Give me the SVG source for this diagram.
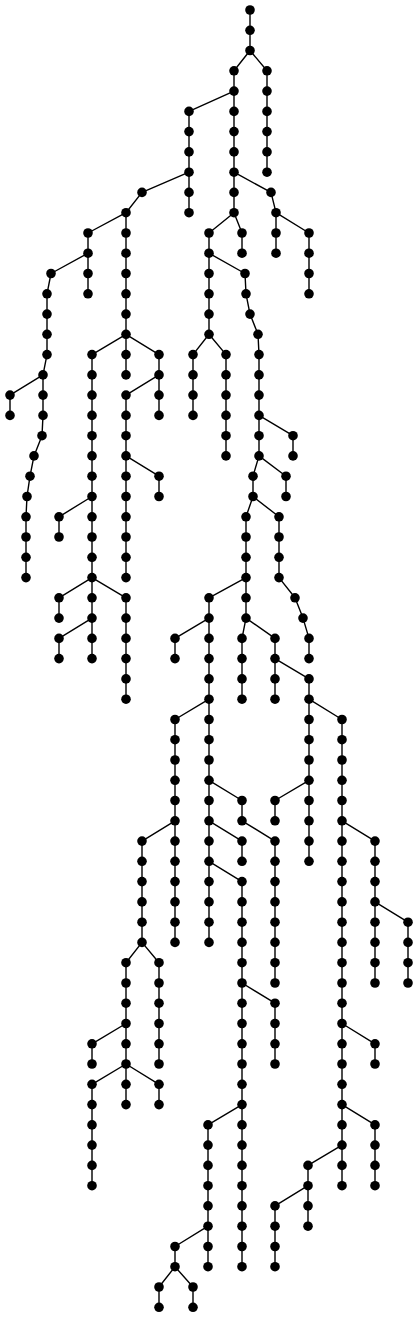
<svg xmlns="http://www.w3.org/2000/svg" width="419" height="1317" viewBox="0 0 419 1317">
<style>
.e path{fill:none;stroke:#000;stroke-width:1.4;stroke-linejoin:round}
.n circle{fill:#000}
</style>
<rect width="419" height="1317" fill="#fff"/>
<g id="connectors" class="e">
<path d="M250 10V50.5L234 70.8V212.7"/>
<path d="M250 50.5L267 70.8V172.2"/>
<path d="M234 91.1L189 111.4V212.7"/>
<path d="M189 172.2L142 192.4L126 212.7V334.3"/>
<path d="M126 212.7L88 233V293.8"/>
<path d="M88 253.2L51 273.5L47 293.8V354.6L43 374.9V415.4L42 435.7L34 455.9L30 476.2L27 496.5L26 516.8V577.6"/>
<path d="M43 374.9L10 395.1V415.4"/>
<path d="M126 334.3L92 354.6V577.6"/>
<path d="M126 334.3V374.9"/>
<path d="M126 334.3L159 354.6V415.4"/>
<path d="M159 374.9L126 395.1V577.6"/>
<path d="M126 455.9L159 476.2V496.5"/>
<path d="M92 496.5L59 516.8V537"/>
<path d="M92 577.6L59 597.8V618.1"/>
<path d="M92 577.6V658.6"/>
<path d="M92 618.1L59 638.4V658.6"/>
<path d="M92 577.6L126 597.8V699.2"/>
<path d="M234 172.2L271 192.4L276 212.7V253.2"/>
<path d="M276 212.7L309 233V293.8"/>
<path d="M234 212.7L242 233V253.2"/>
<path d="M234 212.7L209 233V334.3"/>
<path d="M209 253.2L245 273.5L246 293.8L250 314.1L258 334.3L259 354.6V455.9L253 476.2V496.5L246 516.8V618.1L242 638.4V699.2"/>
<path d="M209 334.3L193 354.6V415.4"/>
<path d="M209 334.3L226 354.6V455.9"/>
<path d="M259 415.4L293 435.7V455.9"/>
<path d="M259 455.9L286 476.2V496.5"/>
<path d="M253 496.5L279 516.8V577.6L295 597.8L303 618.1L309 638.4V658.6"/>
<path d="M246 577.6L209 597.8V942.4"/>
<path d="M209 618.1L175 638.4V658.6"/>
<path d="M246 618.1L275 638.4V699.2"/>
<path d="M275 658.6L309 678.9V861.3"/>
<path d="M209 699.2L175 719.5V942.4"/>
<path d="M209 780.3L242 800.5V820.8L275 841.1V983"/>
<path d="M209 820.8L242 841.1V861.3"/>
<path d="M209 861.3L242 881.6V1266.7"/>
<path d="M242 983L275 1003.2V1064"/>
<path d="M242 1104.6L208 1124.9V1266.7"/>
<path d="M208 1226.2L175 1246.5V1266.7L159 1287V1307.3"/>
<path d="M175 1266.7L193 1287V1307.3"/>
<path d="M175 820.8L142 841.1V942.4L126 962.7V1104.6"/>
<path d="M142 942.4L159 962.7V1064"/>
<path d="M126 1023.5L92 1043.8V1064"/>
<path d="M126 1064L92 1084.3V1185.7"/>
<path d="M126 1064L159 1084.3V1104.6"/>
<path d="M309 699.2L342 719.5V1185.7"/>
<path d="M309 780.3L275 800.5V820.8"/>
<path d="M342 820.8L375 841.1V983"/>
<path d="M375 901.9L408 922.2V983"/>
<path d="M342 1023.5L375 1043.8V1064"/>
<path d="M342 1104.6L375 1124.9V1185.7"/>
<path d="M342 1145.1L308 1165.4V1226.2"/>
<path d="M308 1185.7L275 1205.9V1266.7"/>
</g>
<g id="nodes" class="n">
<g id="n250_0"><circle cx="250" cy="10" r="4.8"/></g>
<g id="n250_1"><circle cx="250" cy="30.3" r="4.8"/></g>
<g id="n250_2"><circle cx="250" cy="50.5" r="4.8"/></g>
<g id="n234_3"><circle cx="234" cy="70.8" r="4.8"/></g>
<g id="n234_4"><circle cx="234" cy="91.1" r="4.8"/></g>
<g id="n234_5"><circle cx="234" cy="111.4" r="4.8"/></g>
<g id="n234_6"><circle cx="234" cy="131.6" r="4.8"/></g>
<g id="n234_7"><circle cx="234" cy="151.9" r="4.8"/></g>
<g id="n234_8"><circle cx="234" cy="172.2" r="4.8"/></g>
<g id="n234_9"><circle cx="234" cy="192.4" r="4.8"/></g>
<g id="n234_10"><circle cx="234" cy="212.7" r="4.8"/></g>
<g id="n267_3"><circle cx="267" cy="70.8" r="4.8"/></g>
<g id="n267_4"><circle cx="267" cy="91.1" r="4.8"/></g>
<g id="n267_5"><circle cx="267" cy="111.4" r="4.8"/></g>
<g id="n267_6"><circle cx="267" cy="131.6" r="4.8"/></g>
<g id="n267_7"><circle cx="267" cy="151.9" r="4.8"/></g>
<g id="n267_8"><circle cx="267" cy="172.2" r="4.8"/></g>
<g id="n189_5"><circle cx="189" cy="111.4" r="4.8"/></g>
<g id="n189_6"><circle cx="189" cy="131.6" r="4.8"/></g>
<g id="n189_7"><circle cx="189" cy="151.9" r="4.8"/></g>
<g id="n189_8"><circle cx="189" cy="172.2" r="4.8"/></g>
<g id="n189_9"><circle cx="189" cy="192.4" r="4.8"/></g>
<g id="n189_10"><circle cx="189" cy="212.7" r="4.8"/></g>
<g id="n142_9"><circle cx="142" cy="192.4" r="4.8"/></g>
<g id="n126_10"><circle cx="126" cy="212.7" r="4.8"/></g>
<g id="n126_11"><circle cx="126" cy="233" r="4.8"/></g>
<g id="n126_12"><circle cx="126" cy="253.2" r="4.8"/></g>
<g id="n126_13"><circle cx="126" cy="273.5" r="4.8"/></g>
<g id="n126_14"><circle cx="126" cy="293.8" r="4.8"/></g>
<g id="n126_15"><circle cx="126" cy="314.1" r="4.8"/></g>
<g id="n126_16"><circle cx="126" cy="334.3" r="4.8"/></g>
<g id="n88_11"><circle cx="88" cy="233" r="4.8"/></g>
<g id="n88_12"><circle cx="88" cy="253.2" r="4.8"/></g>
<g id="n88_13"><circle cx="88" cy="273.5" r="4.8"/></g>
<g id="n88_14"><circle cx="88" cy="293.8" r="4.8"/></g>
<g id="n51_13"><circle cx="51" cy="273.5" r="4.8"/></g>
<g id="n47_14"><circle cx="47" cy="293.8" r="4.8"/></g>
<g id="n47_15"><circle cx="47" cy="314.1" r="4.8"/></g>
<g id="n47_16"><circle cx="47" cy="334.3" r="4.8"/></g>
<g id="n47_17"><circle cx="47" cy="354.6" r="4.8"/></g>
<g id="n43_18"><circle cx="43" cy="374.9" r="4.8"/></g>
<g id="n43_19"><circle cx="43" cy="395.1" r="4.8"/></g>
<g id="n43_20"><circle cx="43" cy="415.4" r="4.8"/></g>
<g id="n42_21"><circle cx="42" cy="435.7" r="4.8"/></g>
<g id="n34_22"><circle cx="34" cy="455.9" r="4.8"/></g>
<g id="n30_23"><circle cx="30" cy="476.2" r="4.8"/></g>
<g id="n27_24"><circle cx="27" cy="496.5" r="4.8"/></g>
<g id="n26_25"><circle cx="26" cy="516.8" r="4.8"/></g>
<g id="n26_26"><circle cx="26" cy="537" r="4.8"/></g>
<g id="n26_27"><circle cx="26" cy="557.3" r="4.8"/></g>
<g id="n26_28"><circle cx="26" cy="577.6" r="4.8"/></g>
<g id="n10_19"><circle cx="10" cy="395.1" r="4.8"/></g>
<g id="n10_20"><circle cx="10" cy="415.4" r="4.8"/></g>
<g id="n92_17"><circle cx="92" cy="354.6" r="4.8"/></g>
<g id="n92_18"><circle cx="92" cy="374.9" r="4.8"/></g>
<g id="n92_19"><circle cx="92" cy="395.1" r="4.8"/></g>
<g id="n92_20"><circle cx="92" cy="415.4" r="4.8"/></g>
<g id="n92_21"><circle cx="92" cy="435.7" r="4.8"/></g>
<g id="n92_22"><circle cx="92" cy="455.9" r="4.8"/></g>
<g id="n92_23"><circle cx="92" cy="476.2" r="4.8"/></g>
<g id="n92_24"><circle cx="92" cy="496.5" r="4.8"/></g>
<g id="n92_25"><circle cx="92" cy="516.8" r="4.8"/></g>
<g id="n92_26"><circle cx="92" cy="537" r="4.8"/></g>
<g id="n92_27"><circle cx="92" cy="557.3" r="4.8"/></g>
<g id="n92_28"><circle cx="92" cy="577.6" r="4.8"/></g>
<g id="n126_17"><circle cx="126" cy="354.6" r="4.8"/></g>
<g id="n126_18"><circle cx="126" cy="374.9" r="4.8"/></g>
<g id="n159_17"><circle cx="159" cy="354.6" r="4.8"/></g>
<g id="n159_18"><circle cx="159" cy="374.9" r="4.8"/></g>
<g id="n159_19"><circle cx="159" cy="395.1" r="4.8"/></g>
<g id="n159_20"><circle cx="159" cy="415.4" r="4.8"/></g>
<g id="n126_19"><circle cx="126" cy="395.1" r="4.8"/></g>
<g id="n126_20"><circle cx="126" cy="415.4" r="4.8"/></g>
<g id="n126_21"><circle cx="126" cy="435.7" r="4.8"/></g>
<g id="n126_22"><circle cx="126" cy="455.9" r="4.8"/></g>
<g id="n126_23"><circle cx="126" cy="476.2" r="4.8"/></g>
<g id="n126_24"><circle cx="126" cy="496.5" r="4.8"/></g>
<g id="n126_25"><circle cx="126" cy="516.8" r="4.8"/></g>
<g id="n126_26"><circle cx="126" cy="537" r="4.8"/></g>
<g id="n126_27"><circle cx="126" cy="557.3" r="4.8"/></g>
<g id="n126_28"><circle cx="126" cy="577.6" r="4.8"/></g>
<g id="n159_23"><circle cx="159" cy="476.2" r="4.8"/></g>
<g id="n159_24"><circle cx="159" cy="496.5" r="4.8"/></g>
<g id="n59_25"><circle cx="59" cy="516.8" r="4.8"/></g>
<g id="n59_26"><circle cx="59" cy="537" r="4.8"/></g>
<g id="n59_29"><circle cx="59" cy="597.8" r="4.8"/></g>
<g id="n59_30"><circle cx="59" cy="618.1" r="4.8"/></g>
<g id="n92_29"><circle cx="92" cy="597.8" r="4.8"/></g>
<g id="n92_30"><circle cx="92" cy="618.1" r="4.8"/></g>
<g id="n92_31"><circle cx="92" cy="638.4" r="4.8"/></g>
<g id="n92_32"><circle cx="92" cy="658.6" r="4.8"/></g>
<g id="n59_31"><circle cx="59" cy="638.4" r="4.8"/></g>
<g id="n59_32"><circle cx="59" cy="658.6" r="4.8"/></g>
<g id="n126_29"><circle cx="126" cy="597.8" r="4.8"/></g>
<g id="n126_30"><circle cx="126" cy="618.1" r="4.8"/></g>
<g id="n126_31"><circle cx="126" cy="638.4" r="4.8"/></g>
<g id="n126_32"><circle cx="126" cy="658.6" r="4.8"/></g>
<g id="n126_33"><circle cx="126" cy="678.9" r="4.8"/></g>
<g id="n126_34"><circle cx="126" cy="699.2" r="4.8"/></g>
<g id="n271_9"><circle cx="271" cy="192.4" r="4.8"/></g>
<g id="n276_10"><circle cx="276" cy="212.7" r="4.8"/></g>
<g id="n276_11"><circle cx="276" cy="233" r="4.8"/></g>
<g id="n276_12"><circle cx="276" cy="253.2" r="4.8"/></g>
<g id="n309_11"><circle cx="309" cy="233" r="4.8"/></g>
<g id="n309_12"><circle cx="309" cy="253.2" r="4.8"/></g>
<g id="n309_13"><circle cx="309" cy="273.5" r="4.8"/></g>
<g id="n309_14"><circle cx="309" cy="293.8" r="4.8"/></g>
<g id="n242_11"><circle cx="242" cy="233" r="4.8"/></g>
<g id="n242_12"><circle cx="242" cy="253.2" r="4.8"/></g>
<g id="n209_11"><circle cx="209" cy="233" r="4.8"/></g>
<g id="n209_12"><circle cx="209" cy="253.2" r="4.8"/></g>
<g id="n209_13"><circle cx="209" cy="273.5" r="4.8"/></g>
<g id="n209_14"><circle cx="209" cy="293.8" r="4.8"/></g>
<g id="n209_15"><circle cx="209" cy="314.1" r="4.8"/></g>
<g id="n209_16"><circle cx="209" cy="334.3" r="4.8"/></g>
<g id="n245_13"><circle cx="245" cy="273.5" r="4.8"/></g>
<g id="n246_14"><circle cx="246" cy="293.8" r="4.8"/></g>
<g id="n250_15"><circle cx="250" cy="314.1" r="4.8"/></g>
<g id="n258_16"><circle cx="258" cy="334.3" r="4.8"/></g>
<g id="n259_17"><circle cx="259" cy="354.6" r="4.8"/></g>
<g id="n259_18"><circle cx="259" cy="374.9" r="4.8"/></g>
<g id="n259_19"><circle cx="259" cy="395.1" r="4.8"/></g>
<g id="n259_20"><circle cx="259" cy="415.4" r="4.8"/></g>
<g id="n259_21"><circle cx="259" cy="435.7" r="4.8"/></g>
<g id="n259_22"><circle cx="259" cy="455.9" r="4.8"/></g>
<g id="n253_23"><circle cx="253" cy="476.2" r="4.8"/></g>
<g id="n253_24"><circle cx="253" cy="496.5" r="4.8"/></g>
<g id="n246_25"><circle cx="246" cy="516.8" r="4.8"/></g>
<g id="n246_26"><circle cx="246" cy="537" r="4.8"/></g>
<g id="n246_27"><circle cx="246" cy="557.3" r="4.8"/></g>
<g id="n246_28"><circle cx="246" cy="577.6" r="4.8"/></g>
<g id="n246_29"><circle cx="246" cy="597.8" r="4.8"/></g>
<g id="n246_30"><circle cx="246" cy="618.1" r="4.8"/></g>
<g id="n242_31"><circle cx="242" cy="638.4" r="4.8"/></g>
<g id="n242_32"><circle cx="242" cy="658.6" r="4.8"/></g>
<g id="n242_33"><circle cx="242" cy="678.9" r="4.8"/></g>
<g id="n242_34"><circle cx="242" cy="699.2" r="4.8"/></g>
<g id="n193_17"><circle cx="193" cy="354.6" r="4.8"/></g>
<g id="n193_18"><circle cx="193" cy="374.9" r="4.8"/></g>
<g id="n193_19"><circle cx="193" cy="395.1" r="4.8"/></g>
<g id="n193_20"><circle cx="193" cy="415.4" r="4.8"/></g>
<g id="n226_17"><circle cx="226" cy="354.6" r="4.8"/></g>
<g id="n226_18"><circle cx="226" cy="374.9" r="4.8"/></g>
<g id="n226_19"><circle cx="226" cy="395.1" r="4.8"/></g>
<g id="n226_20"><circle cx="226" cy="415.4" r="4.8"/></g>
<g id="n226_21"><circle cx="226" cy="435.7" r="4.8"/></g>
<g id="n226_22"><circle cx="226" cy="455.9" r="4.8"/></g>
<g id="n293_21"><circle cx="293" cy="435.7" r="4.8"/></g>
<g id="n293_22"><circle cx="293" cy="455.9" r="4.8"/></g>
<g id="n286_23"><circle cx="286" cy="476.2" r="4.8"/></g>
<g id="n286_24"><circle cx="286" cy="496.5" r="4.8"/></g>
<g id="n279_25"><circle cx="279" cy="516.8" r="4.8"/></g>
<g id="n279_26"><circle cx="279" cy="537" r="4.8"/></g>
<g id="n279_27"><circle cx="279" cy="557.3" r="4.8"/></g>
<g id="n279_28"><circle cx="279" cy="577.6" r="4.8"/></g>
<g id="n295_29"><circle cx="295" cy="597.8" r="4.8"/></g>
<g id="n303_30"><circle cx="303" cy="618.1" r="4.8"/></g>
<g id="n309_31"><circle cx="309" cy="638.4" r="4.8"/></g>
<g id="n309_32"><circle cx="309" cy="658.6" r="4.8"/></g>
<g id="n209_29"><circle cx="209" cy="597.8" r="4.8"/></g>
<g id="n209_30"><circle cx="209" cy="618.1" r="4.8"/></g>
<g id="n209_31"><circle cx="209" cy="638.4" r="4.8"/></g>
<g id="n209_32"><circle cx="209" cy="658.6" r="4.8"/></g>
<g id="n209_33"><circle cx="209" cy="678.9" r="4.8"/></g>
<g id="n209_34"><circle cx="209" cy="699.2" r="4.8"/></g>
<g id="n209_35"><circle cx="209" cy="719.5" r="4.8"/></g>
<g id="n209_36"><circle cx="209" cy="739.7" r="4.8"/></g>
<g id="n209_37"><circle cx="209" cy="760" r="4.8"/></g>
<g id="n209_38"><circle cx="209" cy="780.3" r="4.8"/></g>
<g id="n209_39"><circle cx="209" cy="800.5" r="4.8"/></g>
<g id="n209_40"><circle cx="209" cy="820.8" r="4.8"/></g>
<g id="n209_41"><circle cx="209" cy="841.1" r="4.8"/></g>
<g id="n209_42"><circle cx="209" cy="861.3" r="4.8"/></g>
<g id="n209_43"><circle cx="209" cy="881.6" r="4.8"/></g>
<g id="n209_44"><circle cx="209" cy="901.9" r="4.8"/></g>
<g id="n209_45"><circle cx="209" cy="922.2" r="4.8"/></g>
<g id="n209_46"><circle cx="209" cy="942.4" r="4.8"/></g>
<g id="n175_31"><circle cx="175" cy="638.4" r="4.8"/></g>
<g id="n175_32"><circle cx="175" cy="658.6" r="4.8"/></g>
<g id="n275_31"><circle cx="275" cy="638.4" r="4.8"/></g>
<g id="n275_32"><circle cx="275" cy="658.6" r="4.8"/></g>
<g id="n275_33"><circle cx="275" cy="678.9" r="4.8"/></g>
<g id="n275_34"><circle cx="275" cy="699.2" r="4.8"/></g>
<g id="n309_33"><circle cx="309" cy="678.9" r="4.8"/></g>
<g id="n309_34"><circle cx="309" cy="699.2" r="4.8"/></g>
<g id="n309_35"><circle cx="309" cy="719.5" r="4.8"/></g>
<g id="n309_36"><circle cx="309" cy="739.7" r="4.8"/></g>
<g id="n309_37"><circle cx="309" cy="760" r="4.8"/></g>
<g id="n309_38"><circle cx="309" cy="780.3" r="4.8"/></g>
<g id="n309_39"><circle cx="309" cy="800.5" r="4.8"/></g>
<g id="n309_40"><circle cx="309" cy="820.8" r="4.8"/></g>
<g id="n309_41"><circle cx="309" cy="841.1" r="4.8"/></g>
<g id="n309_42"><circle cx="309" cy="861.3" r="4.8"/></g>
<g id="n175_35"><circle cx="175" cy="719.5" r="4.8"/></g>
<g id="n175_36"><circle cx="175" cy="739.7" r="4.8"/></g>
<g id="n175_37"><circle cx="175" cy="760" r="4.8"/></g>
<g id="n175_38"><circle cx="175" cy="780.3" r="4.8"/></g>
<g id="n175_39"><circle cx="175" cy="800.5" r="4.8"/></g>
<g id="n175_40"><circle cx="175" cy="820.8" r="4.8"/></g>
<g id="n175_41"><circle cx="175" cy="841.1" r="4.8"/></g>
<g id="n175_42"><circle cx="175" cy="861.3" r="4.8"/></g>
<g id="n175_43"><circle cx="175" cy="881.6" r="4.8"/></g>
<g id="n175_44"><circle cx="175" cy="901.9" r="4.8"/></g>
<g id="n175_45"><circle cx="175" cy="922.2" r="4.8"/></g>
<g id="n175_46"><circle cx="175" cy="942.4" r="4.8"/></g>
<g id="n242_39"><circle cx="242" cy="800.5" r="4.8"/></g>
<g id="n242_40"><circle cx="242" cy="820.8" r="4.8"/></g>
<g id="n275_41"><circle cx="275" cy="841.1" r="4.8"/></g>
<g id="n275_42"><circle cx="275" cy="861.3" r="4.8"/></g>
<g id="n275_43"><circle cx="275" cy="881.6" r="4.8"/></g>
<g id="n275_44"><circle cx="275" cy="901.9" r="4.8"/></g>
<g id="n275_45"><circle cx="275" cy="922.2" r="4.8"/></g>
<g id="n275_46"><circle cx="275" cy="942.4" r="4.8"/></g>
<g id="n275_47"><circle cx="275" cy="962.7" r="4.8"/></g>
<g id="n275_48"><circle cx="275" cy="983" r="4.8"/></g>
<g id="n242_41"><circle cx="242" cy="841.1" r="4.8"/></g>
<g id="n242_42"><circle cx="242" cy="861.3" r="4.8"/></g>
<g id="n242_43"><circle cx="242" cy="881.6" r="4.8"/></g>
<g id="n242_44"><circle cx="242" cy="901.9" r="4.8"/></g>
<g id="n242_45"><circle cx="242" cy="922.2" r="4.8"/></g>
<g id="n242_46"><circle cx="242" cy="942.4" r="4.8"/></g>
<g id="n242_47"><circle cx="242" cy="962.7" r="4.8"/></g>
<g id="n242_48"><circle cx="242" cy="983" r="4.8"/></g>
<g id="n242_49"><circle cx="242" cy="1003.2" r="4.8"/></g>
<g id="n242_50"><circle cx="242" cy="1023.5" r="4.8"/></g>
<g id="n242_51"><circle cx="242" cy="1043.8" r="4.8"/></g>
<g id="n242_52"><circle cx="242" cy="1064" r="4.8"/></g>
<g id="n242_53"><circle cx="242" cy="1084.3" r="4.8"/></g>
<g id="n242_54"><circle cx="242" cy="1104.6" r="4.8"/></g>
<g id="n242_55"><circle cx="242" cy="1124.9" r="4.8"/></g>
<g id="n242_56"><circle cx="242" cy="1145.1" r="4.8"/></g>
<g id="n242_57"><circle cx="242" cy="1165.4" r="4.8"/></g>
<g id="n242_58"><circle cx="242" cy="1185.7" r="4.8"/></g>
<g id="n242_59"><circle cx="242" cy="1205.9" r="4.8"/></g>
<g id="n242_60"><circle cx="242" cy="1226.2" r="4.8"/></g>
<g id="n242_61"><circle cx="242" cy="1246.5" r="4.8"/></g>
<g id="n242_62"><circle cx="242" cy="1266.7" r="4.8"/></g>
<g id="n275_49"><circle cx="275" cy="1003.2" r="4.8"/></g>
<g id="n275_50"><circle cx="275" cy="1023.5" r="4.8"/></g>
<g id="n275_51"><circle cx="275" cy="1043.8" r="4.8"/></g>
<g id="n275_52"><circle cx="275" cy="1064" r="4.8"/></g>
<g id="n208_55"><circle cx="208" cy="1124.9" r="4.8"/></g>
<g id="n208_56"><circle cx="208" cy="1145.1" r="4.8"/></g>
<g id="n208_57"><circle cx="208" cy="1165.4" r="4.8"/></g>
<g id="n208_58"><circle cx="208" cy="1185.7" r="4.8"/></g>
<g id="n208_59"><circle cx="208" cy="1205.9" r="4.8"/></g>
<g id="n208_60"><circle cx="208" cy="1226.2" r="4.8"/></g>
<g id="n208_61"><circle cx="208" cy="1246.5" r="4.8"/></g>
<g id="n208_62"><circle cx="208" cy="1266.7" r="4.8"/></g>
<g id="n175_61"><circle cx="175" cy="1246.5" r="4.8"/></g>
<g id="n175_62"><circle cx="175" cy="1266.7" r="4.8"/></g>
<g id="n159_63"><circle cx="159" cy="1287" r="4.8"/></g>
<g id="n159_64"><circle cx="159" cy="1307.3" r="4.8"/></g>
<g id="n193_63"><circle cx="193" cy="1287" r="4.8"/></g>
<g id="n193_64"><circle cx="193" cy="1307.3" r="4.8"/></g>
<g id="n142_41"><circle cx="142" cy="841.1" r="4.8"/></g>
<g id="n142_42"><circle cx="142" cy="861.3" r="4.8"/></g>
<g id="n142_43"><circle cx="142" cy="881.6" r="4.8"/></g>
<g id="n142_44"><circle cx="142" cy="901.9" r="4.8"/></g>
<g id="n142_45"><circle cx="142" cy="922.2" r="4.8"/></g>
<g id="n142_46"><circle cx="142" cy="942.4" r="4.8"/></g>
<g id="n126_47"><circle cx="126" cy="962.7" r="4.8"/></g>
<g id="n126_48"><circle cx="126" cy="983" r="4.8"/></g>
<g id="n126_49"><circle cx="126" cy="1003.2" r="4.8"/></g>
<g id="n126_50"><circle cx="126" cy="1023.5" r="4.8"/></g>
<g id="n126_51"><circle cx="126" cy="1043.8" r="4.8"/></g>
<g id="n126_52"><circle cx="126" cy="1064" r="4.8"/></g>
<g id="n126_53"><circle cx="126" cy="1084.3" r="4.8"/></g>
<g id="n126_54"><circle cx="126" cy="1104.6" r="4.8"/></g>
<g id="n159_47"><circle cx="159" cy="962.7" r="4.8"/></g>
<g id="n159_48"><circle cx="159" cy="983" r="4.8"/></g>
<g id="n159_49"><circle cx="159" cy="1003.2" r="4.8"/></g>
<g id="n159_50"><circle cx="159" cy="1023.5" r="4.8"/></g>
<g id="n159_51"><circle cx="159" cy="1043.8" r="4.8"/></g>
<g id="n159_52"><circle cx="159" cy="1064" r="4.8"/></g>
<g id="n92_51"><circle cx="92" cy="1043.8" r="4.8"/></g>
<g id="n92_52"><circle cx="92" cy="1064" r="4.8"/></g>
<g id="n92_53"><circle cx="92" cy="1084.3" r="4.8"/></g>
<g id="n92_54"><circle cx="92" cy="1104.6" r="4.8"/></g>
<g id="n92_55"><circle cx="92" cy="1124.9" r="4.8"/></g>
<g id="n92_56"><circle cx="92" cy="1145.1" r="4.8"/></g>
<g id="n92_57"><circle cx="92" cy="1165.4" r="4.8"/></g>
<g id="n92_58"><circle cx="92" cy="1185.7" r="4.8"/></g>
<g id="n159_53"><circle cx="159" cy="1084.3" r="4.8"/></g>
<g id="n159_54"><circle cx="159" cy="1104.6" r="4.8"/></g>
<g id="n342_35"><circle cx="342" cy="719.5" r="4.8"/></g>
<g id="n342_36"><circle cx="342" cy="739.7" r="4.8"/></g>
<g id="n342_37"><circle cx="342" cy="760" r="4.8"/></g>
<g id="n342_38"><circle cx="342" cy="780.3" r="4.8"/></g>
<g id="n342_39"><circle cx="342" cy="800.5" r="4.8"/></g>
<g id="n342_40"><circle cx="342" cy="820.8" r="4.8"/></g>
<g id="n342_41"><circle cx="342" cy="841.1" r="4.8"/></g>
<g id="n342_42"><circle cx="342" cy="861.3" r="4.8"/></g>
<g id="n342_43"><circle cx="342" cy="881.6" r="4.8"/></g>
<g id="n342_44"><circle cx="342" cy="901.9" r="4.8"/></g>
<g id="n342_45"><circle cx="342" cy="922.2" r="4.8"/></g>
<g id="n342_46"><circle cx="342" cy="942.4" r="4.8"/></g>
<g id="n342_47"><circle cx="342" cy="962.7" r="4.8"/></g>
<g id="n342_48"><circle cx="342" cy="983" r="4.8"/></g>
<g id="n342_49"><circle cx="342" cy="1003.2" r="4.8"/></g>
<g id="n342_50"><circle cx="342" cy="1023.5" r="4.8"/></g>
<g id="n342_51"><circle cx="342" cy="1043.8" r="4.8"/></g>
<g id="n342_52"><circle cx="342" cy="1064" r="4.8"/></g>
<g id="n342_53"><circle cx="342" cy="1084.3" r="4.8"/></g>
<g id="n342_54"><circle cx="342" cy="1104.6" r="4.8"/></g>
<g id="n342_55"><circle cx="342" cy="1124.9" r="4.8"/></g>
<g id="n342_56"><circle cx="342" cy="1145.1" r="4.8"/></g>
<g id="n342_57"><circle cx="342" cy="1165.4" r="4.8"/></g>
<g id="n342_58"><circle cx="342" cy="1185.7" r="4.8"/></g>
<g id="n275_39"><circle cx="275" cy="800.5" r="4.8"/></g>
<g id="n275_40"><circle cx="275" cy="820.8" r="4.8"/></g>
<g id="n375_41"><circle cx="375" cy="841.1" r="4.8"/></g>
<g id="n375_42"><circle cx="375" cy="861.3" r="4.8"/></g>
<g id="n375_43"><circle cx="375" cy="881.6" r="4.8"/></g>
<g id="n375_44"><circle cx="375" cy="901.9" r="4.8"/></g>
<g id="n375_45"><circle cx="375" cy="922.2" r="4.8"/></g>
<g id="n375_46"><circle cx="375" cy="942.4" r="4.8"/></g>
<g id="n375_47"><circle cx="375" cy="962.7" r="4.8"/></g>
<g id="n375_48"><circle cx="375" cy="983" r="4.8"/></g>
<g id="n408_45"><circle cx="408" cy="922.2" r="4.8"/></g>
<g id="n408_46"><circle cx="408" cy="942.4" r="4.8"/></g>
<g id="n408_47"><circle cx="408" cy="962.7" r="4.8"/></g>
<g id="n408_48"><circle cx="408" cy="983" r="4.8"/></g>
<g id="n375_51"><circle cx="375" cy="1043.8" r="4.8"/></g>
<g id="n375_52"><circle cx="375" cy="1064" r="4.8"/></g>
<g id="n375_55"><circle cx="375" cy="1124.9" r="4.8"/></g>
<g id="n375_56"><circle cx="375" cy="1145.1" r="4.8"/></g>
<g id="n375_57"><circle cx="375" cy="1165.4" r="4.8"/></g>
<g id="n375_58"><circle cx="375" cy="1185.7" r="4.8"/></g>
<g id="n308_57"><circle cx="308" cy="1165.4" r="4.8"/></g>
<g id="n308_58"><circle cx="308" cy="1185.7" r="4.8"/></g>
<g id="n308_59"><circle cx="308" cy="1205.9" r="4.8"/></g>
<g id="n308_60"><circle cx="308" cy="1226.2" r="4.8"/></g>
<g id="n275_59"><circle cx="275" cy="1205.9" r="4.8"/></g>
<g id="n275_60"><circle cx="275" cy="1226.2" r="4.8"/></g>
<g id="n275_61"><circle cx="275" cy="1246.5" r="4.8"/></g>
<g id="n275_62"><circle cx="275" cy="1266.7" r="4.8"/></g>
</g>
</svg>
